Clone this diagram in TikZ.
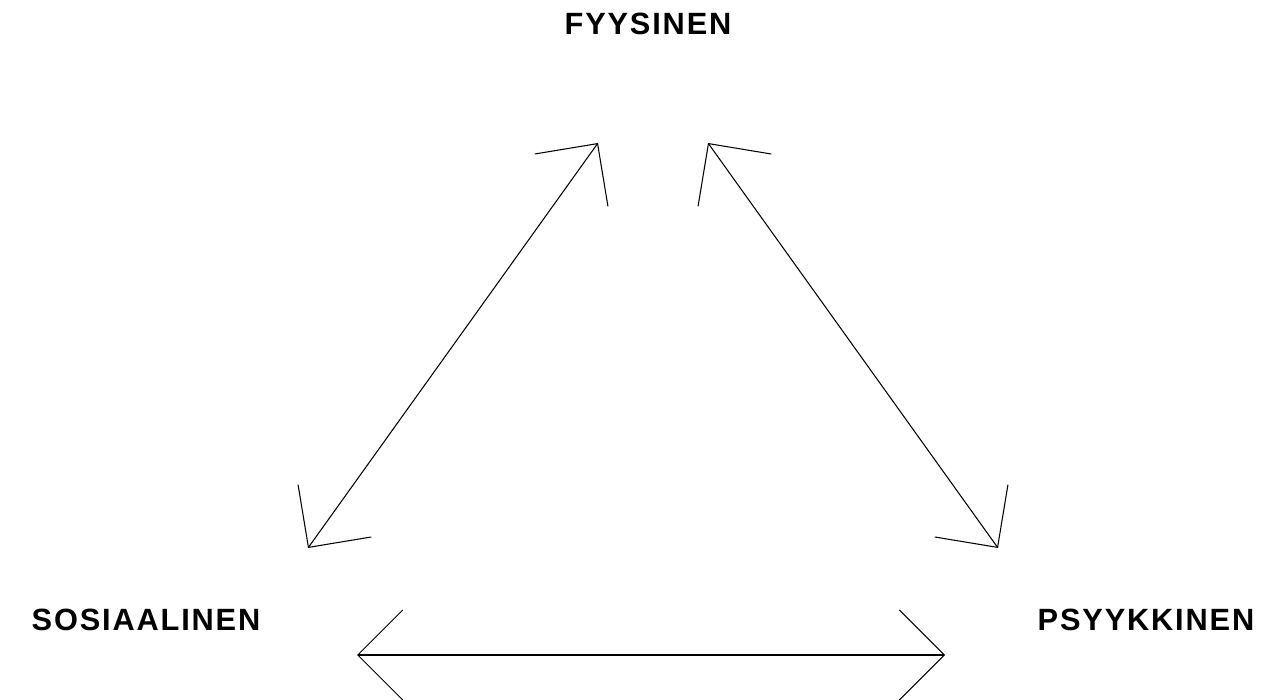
\documentclass[tikz,border=0pt]{standalone}
\usepackage{fontspec}
\newfontfamily\labelfont[LetterSpace=6]{Liberation Sans}
\usepackage{tikz}
\usetikzlibrary{arrows.meta, positioning}

\begin{document}
\begin{tikzpicture}
 \tikzstyle{dimension}=[font=\labelfont\bfseries\fontsize{17.5}{20}\selectfont,
   text=black,inner sep=0pt]
 \tikzstyle{link}=[draw=black,line width=0.6pt,
   {Straight Barb[length=0.9cm,width=1.8cm]}-{Straight Barb[length=0.9cm,width=1.8cm]}]
 \useasboundingbox (0,0) rectangle (25.74,14);
 \node (fyys) [dimension] at (12.96,13.52) {FYYSINEN};
 \node (sos) [dimension] at (2.92,1.6) {SOSIAALINEN};
 \node (psyk) [dimension] at (22.92,1.6) {PSYYKKINEN};
 % arrow ends
 \coordinate (fyysL) at (11.96,11.14);
 \coordinate (fyysR) at (14.16,11.14);
 \coordinate (sosT) at (6.16,3.04);
 \coordinate (sosB) at (7.14,0.9);
 \coordinate (psykT) at (19.96,3.04);
 \coordinate (psykB) at (18.9,0.9);
 \draw[link] (sosT) -- (fyysL);
 \draw[link] (fyysR) -- (psykT);
 \draw[link] (sosB) -- (psykB);
\end{tikzpicture}
\end{document}
